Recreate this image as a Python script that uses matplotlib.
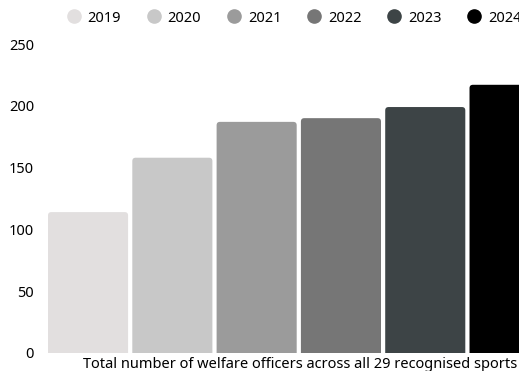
import matplotlib
matplotlib.use("Agg")
import matplotlib.pyplot as plt
from matplotlib.lines import Line2D
from matplotlib.patches import FancyBboxPatch

years = ["2019", "2020", "2021", "2022", "2023", "2024"]
officers = [114, 158, 187, 190, 199, 217]
colors = ["#e2dfdf", "#c8c8c8", "#9b9b9b", "#767676", "#3d4446", "#000000"]
yticks = [0, 50, 100, 150, 200, 250]
xlabel = "Total number of welfare officers across all 29 recognised sports"

plt.rcParams['font.family'] = ['Noto Sans', 'DejaVu Sans']

fig = plt.figure(figsize=(5.19, 3.71), dpi=100)
W, H = 519, 371
ax = fig.add_axes([48 / W, 1 - 353 / H, 1 - 48 / W, (353 - 44) / H])

x = list(range(len(years)))
bars = ax.bar(x, officers, width=0.95, color=colors, linewidth=0)
ax.set_xlim(-0.475, 5.112)
ax.set_ylim(0, 250)

# rounded top corners: replace each rectangle by a rounded patch of the same geometry
r_x = 0.04
aspect = 68.0
for b in bars:
    bx, by = b.get_x(), b.get_y()
    bw, bh = b.get_width(), b.get_height()
    p = FancyBboxPatch((bx, by - 10), bw, bh + 10,
                       boxstyle=f"round,pad=0,rounding_size={r_x}",
                       mutation_aspect=aspect, facecolor=b.get_facecolor(),
                       linewidth=0, clip_on=True)
    b.set_visible(False)
    ax.add_patch(p)

ax.set_yticks(yticks)
ax.set_yticklabels([str(t) for t in yticks], fontsize=10.5, color='#000000')
ax.set_xticks([])
ax.tick_params(axis='y', length=0, pad=10)
for s in ax.spines.values():
    s.set_visible(False)

fig.text(300 / W, 1 - 365 / H, xlabel, ha='center', va='center', fontsize=10.5,
         color='#000000')

handles = [Line2D([], [], linestyle='none', marker='o', markersize=9.5,
                  markerfacecolor=c, markeredgecolor=c) for c in colors]
fig.legend(handles, years, ncol=6, loc='center', bbox_to_anchor=(294 / W, 1 - 18 / H),
           frameon=False, fontsize=10.5, handlelength=1.0, handletextpad=0.45,
           columnspacing=1.75, borderaxespad=0)

fig.savefig("out.png", dpi=100)
